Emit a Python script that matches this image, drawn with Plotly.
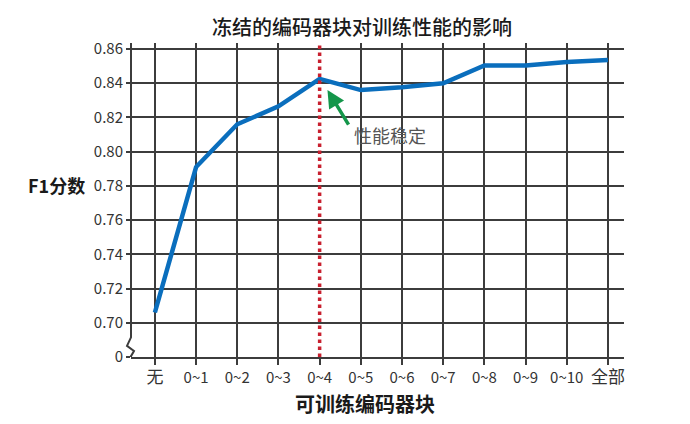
import plotly.graph_objects as go

# 数据
categories = ['无', '0~1', '0~2', '0~3', '0~4', '0~5', '0~6', '0~7', '0~8', '0~9', '0~10', '全部']
f1_scores = [0.706, 0.791, 0.816, 0.8265, 0.8425, 0.836, 0.8377, 0.840, 0.8504, 0.8504, 0.8524, 0.8535]
y_tickvals = [0.68, 0.70, 0.72, 0.74, 0.76, 0.78, 0.80, 0.82, 0.84, 0.86]
y_ticktext = ['0', '0.70', '0.72', '0.74', '0.76', '0.78', '0.80', '0.82', '0.84', '0.86']
stable_idx = 4  # 0~4 之后性能稳定

font_cjk = 'Noto Sans CJK SC'
grid_col = '#3c3c3c'

# 中文刻度字稍大一点
x_ticktext = [c if c[0].isdigit() else '<span style="font-size:17px">%s</span>' % c for c in categories]
# 红线处不画竖网格
grid_vals = [i for i in range(len(categories)) if i != stable_idx]

fig = go.Figure()
fig.add_trace(
    go.Scatter(
        x=list(range(len(categories))), y=f1_scores,
        mode='lines',
        line=dict(color='#0a6ebd', width=4.5),
        showlegend=False,
    )
)

# 红色虚线
fig.add_shape(
    type='line', xref='x', yref='paper',
    x0=stable_idx, x1=stable_idx, y0=0, y1=1,
    line=dict(color='#c8202f', width=3.5, dash='dot'),
)

# y 轴（带断轴符号）
fig.add_shape(
    type='path', xref='paper', yref='y', xsizemode='pixel', xanchor=0,
    path='M0,0.8635 L0,0.6915 L-4,0.6865 L3,0.6835 L0,0.6805 L0,0.68',
    line=dict(color=grid_col, width=2),
)

# 箭头 + 注释
fig.add_annotation(
    x=stable_idx + 0.19, y=0.836, xref='x', yref='y',
    text='', showarrow=True, ax=22, ay=36,
    arrowhead=2, arrowsize=1, arrowwidth=3.5, arrowcolor='#14964a',
)
fig.add_annotation(
    x=(390 - 131) / 493, y=0.8098, xref='paper', yref='y',
    xanchor='center', yanchor='middle',
    text='性能稳定', showarrow=False,
    font=dict(family=font_cjk, size=18, color='#555555'),
)

# y 轴标题
fig.add_annotation(
    x=-0.152, y=0.7805, xref='paper', yref='y',
    xanchor='center', yanchor='middle',
    text='F1分数', showarrow=False,
    font=dict(family=font_cjk, size=18, color='#1a1a1a', weight=700),
)
# x 轴标题
fig.add_annotation(
    x=0.475, y=-0.1465, xref='paper', yref='paper',
    xanchor='center', yanchor='middle',
    text='可训练编码器块', showarrow=False,
    font=dict(family=font_cjk, size=20, color='#1a1a1a', weight=700),
)

fig.update_layout(
    width=690, height=424,
    margin=dict(l=131, r=66, t=43, b=67),
    paper_bgcolor='white', plot_bgcolor='white',
    title=dict(
        text='冻结的编码器块对训练性能的影响',
        x=362 / 690, xanchor='center', y=1 - 28 / 424, yanchor='middle',
        font=dict(family=font_cjk, size=20, color='#1a1a1a', weight=500),
    ),
    xaxis=dict(
        tickvals=list(range(len(categories))), ticktext=x_ticktext,
        range=[-0.58, 11.39],
        showgrid=False,
        minor=dict(tickmode='array', tickvals=grid_vals, showgrid=True,
                   gridcolor=grid_col, gridwidth=2, ticks=''),
        showline=True, linecolor=grid_col, linewidth=2,
        ticks='outside', ticklen=6, tickwidth=2, tickcolor=grid_col,
        tickfont=dict(family=font_cjk, size=15, color='#333333'),
        zeroline=False,
    ),
    yaxis=dict(
        tickvals=y_tickvals, ticktext=y_ticktext,
        range=[0.68, 0.8635],
        showgrid=True, gridcolor=grid_col, gridwidth=2,
        showline=False,
        ticks='outside', ticklen=4, tickwidth=2, tickcolor=grid_col,
        tickfont=dict(family=font_cjk, size=15, color='#333333'),
        zeroline=False,
    ),
)

fig.write_html('out.html', config={'displayModeBar': False},
               post_script="document.body.style.margin='0';")
